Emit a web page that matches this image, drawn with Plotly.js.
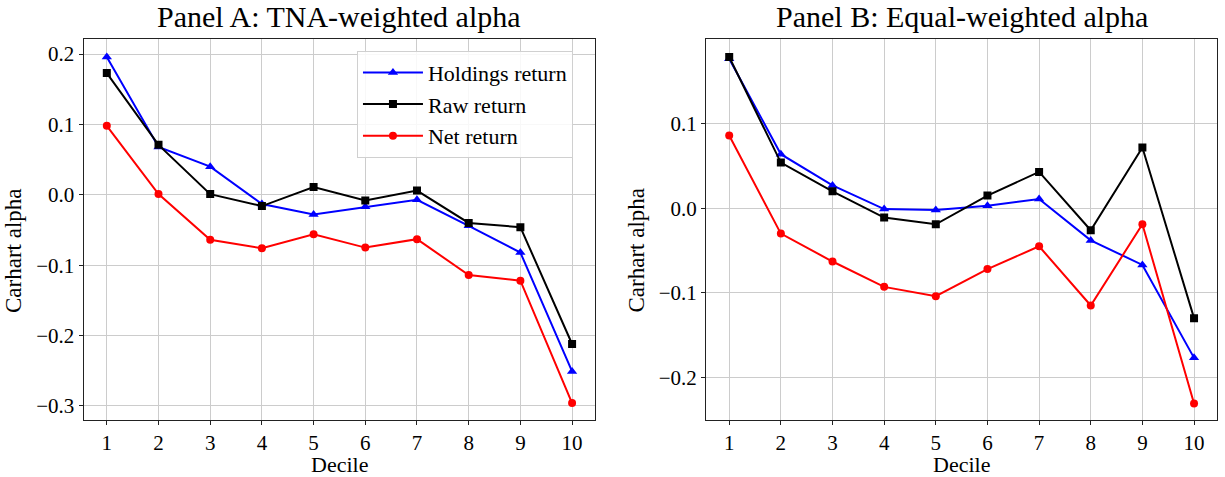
<!DOCTYPE html>
<html>
<head>
<meta charset="utf-8">
<script src="https://cdn.plot.ly/plotly-3.0.1.min.js"></script>
<style>html,body{margin:0;padding:0;background:#fff;}#chart{width:1225px;height:477px;}</style>
</head>
<body>
<div id="chart"></div>
<script>
const deciles = [1, 2, 3, 4, 5, 6, 7, 8, 9, 10];
const seriesNames = ["Holdings return", "Raw return", "Net return"];

// Panel A: TNA-weighted alpha
const tnaHoldings = [0.196, 0.068, 0.040, -0.013, -0.028, -0.017, -0.007, -0.044, -0.082, -0.251];
const tnaRaw      = [0.173, 0.071, 0.001, -0.016, 0.011, -0.008, 0.006, -0.040, -0.046, -0.212];
const tnaNet      = [0.098, 0.001, -0.064, -0.076, -0.056, -0.075, -0.063, -0.114, -0.122, -0.296];

// Panel B: Equal-weighted alpha
const ewHoldings = [0.177, 0.064, 0.027, -0.001, -0.002, 0.003, 0.011, -0.038, -0.067, -0.177];
const ewRaw      = [0.179, 0.054, 0.020, -0.011, -0.019, 0.015, 0.043, -0.026, 0.072, -0.130];
const ewNet      = [0.086, -0.030, -0.063, -0.093, -0.104, -0.072, -0.045, -0.115, -0.019, -0.231];

const panelTitles = ["Panel A: TNA-weighted alpha", "Panel B: Equal-weighted alpha"];
const xTitle = "Decile";
const yTitle = "Carhart alpha";

const FONT = "Liberation Serif";
const styles = [
  {color: "#0000ff", symbol: "triangle-up", size: 9},
  {color: "#000000", symbol: "square", size: 8},
  {color: "#ff0000", symbol: "circle", size: 8}
];

function mk(y, i, xa, ya, showlegend) {
  return {
    x: deciles, y: y, type: "scatter", mode: "lines+markers",
    name: seriesNames[i], legendgroup: "g" + i,
    xaxis: xa, yaxis: ya, showlegend: showlegend,
    line: {color: styles[i].color, width: 2},
    marker: {color: styles[i].color, symbol: styles[i].symbol, size: styles[i].size}
  };
}

const data = [
  mk(tnaHoldings, 0, "x", "y", true),
  mk(tnaRaw, 1, "x", "y", true),
  mk(tnaNet, 2, "x", "y", true),
  mk(ewHoldings, 0, "x2", "y2", false),
  mk(ewRaw, 1, "x2", "y2", false),
  mk(ewNet, 2, "x2", "y2", false)
];

const tickFont = {family: FONT, size: 21, color: "#000"};
function xax(domain, anchor) {
  return {
    domain: domain, anchor: anchor, range: [0.55, 10.45],
    tickvals: deciles, ticks: "outside", ticklen: 4, tickcolor: "#222",
    showline: true, linecolor: "#222", linewidth: 1, mirror: true,
    showgrid: true, gridcolor: "#cccccc", gridwidth: 1, zeroline: false,
    tickfont: tickFont, automargin: false
  };
}
function yax(domain, anchor, range, tickvals) {
  return {
    domain: domain, anchor: anchor, range: range,
    tickvals: tickvals, tickformat: ".1f",
    ticks: "outside", ticklen: 4, tickcolor: "#222",
    showline: true, linecolor: "#222", linewidth: 1, mirror: true,
    showgrid: true, gridcolor: "#cccccc", gridwidth: 1, zeroline: false,
    tickfont: tickFont, automargin: false
  };
}

const domA = [0.0682, 0.4860], domB = [0.5763, 0.9937];
const cA = (domA[0] + domA[1]) / 2, cB = (domB[0] + domB[1]) / 2;
const yDom = [0.1195, 0.9176];

function ann(text, x, y, size, extra) {
  return Object.assign({text: text, x: x, y: y, xref: "paper", yref: "paper",
    xanchor: "center", yanchor: "middle", showarrow: false,
    font: {family: FONT, size: size, color: "#000"}}, extra || {});
}

const layout = {
  width: 1225, height: 477,
  margin: {l: 0, r: 0, t: 0, b: 0},
  paper_bgcolor: "#fff", plot_bgcolor: "#fff",
  font: {family: FONT, color: "#000"},
  xaxis: xax(domA, "y"),
  yaxis: yax(yDom, "x", [-0.320, 0.221], [-0.3, -0.2, -0.1, 0.0, 0.1, 0.2]),
  xaxis2: xax(domB, "y2"),
  yaxis2: yax(yDom, "x2", [-0.2505, 0.1999], [-0.2, -0.1, 0.0, 0.1]),
  showlegend: true,
  legend: {
    x: 0.2914, y: 0.8937, xanchor: "left", yanchor: "top",
    bgcolor: "rgba(255,255,255,0.85)", bordercolor: "#d0d0d0", borderwidth: 1,
    font: {family: FONT, size: 22, color: "#000"},
    itemwidth: 60, traceorder: "grouped", tracegroupgap: 0
  },
  annotations: [
    ann(panelTitles[0], cA, 1.0, 30, {yanchor: "top", yshift: 2}),
    ann(panelTitles[1], cB, 1.0, 30, {yanchor: "top", yshift: 2}),
    ann(xTitle, cA, (477 - 464) / 477, 22),
    ann(xTitle, cB, (477 - 464) / 477, 22),
    ann(yTitle, 13.5 / 1225, (477 - 250.5) / 477, 23, {textangle: -90}),
    ann(yTitle, 636 / 1225, (477 - 250.5) / 477, 23, {textangle: -90})
  ]
};

Plotly.newPlot("chart", data, layout, {displayModeBar: false, staticPlot: true});
</script>
</body>
</html>
